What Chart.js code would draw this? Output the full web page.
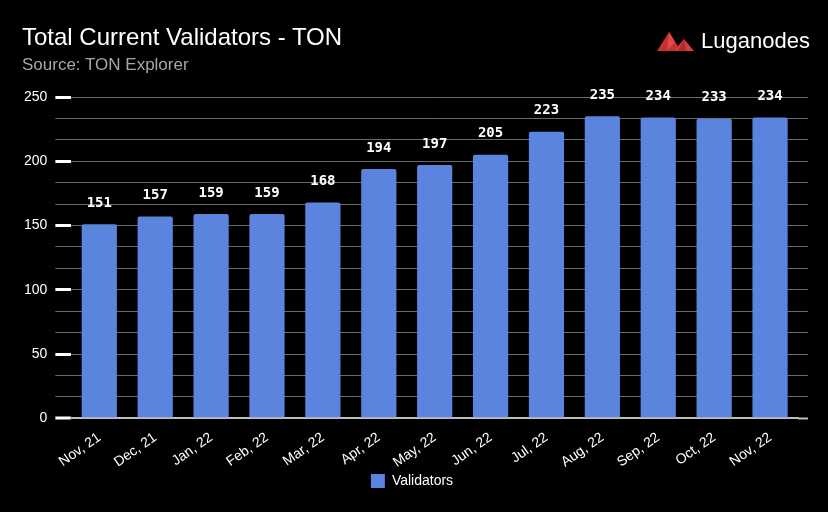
<!DOCTYPE html>
<html>
<head>
<meta charset="utf-8">
<script src="https://cdn.jsdelivr.net/npm/chart.js@4"></script>
<style>
  html, body { margin: 0; padding: 0; background: #000; }
  #wrap { position: relative; width: 828px; height: 512px; }
  #chart { position: absolute; left: 0; top: 0; }
  .head { position: absolute; left: 22px; white-space: nowrap;
          font-family: "Liberation Sans", Arial, sans-serif; }
  #title { top: 23px; font-size: 24px; line-height: 28px; color: #fff; }
  #subtitle { top: 55px; font-size: 17px; line-height: 20px; color: #a6a6a6; }
  #logo { position: absolute; left: 657px; top: 28px; display: flex; align-items: center;
          font-family: "Liberation Sans", Arial, sans-serif; font-size: 22px; color: #fff; }
  #logo svg { margin-right: 7px; }
</style>
</head>
<body>
<div id="wrap">
  <canvas id="chart" width="828" height="512"></canvas>
  <div id="title" class="head">Total Current Validators - TON</div>
  <div id="subtitle" class="head">Source: TON Explorer</div>
  <div id="logo">
    <svg width="37" height="20" viewBox="0 0 37 20">
      <polygon points="0,20 12,1 24,20" fill="#c9302f"/>
      <polygon points="10,20 12,1 18,11" fill="#e2484a"/>
      <polygon points="17,20 27,8 37,20" fill="#d83c3e"/>
      <polygon points="21,20 27,8 29,20" fill="#b22a2b"/>
    </svg>
    <span>Luganodes</span>
  </div>
</div>
<script>
var months = ['Nov, 21', 'Dec, 21', 'Jan, 22', 'Feb, 22', 'Mar, 22', 'Apr, 22', 'May, 22',
              'Jun, 22', 'Jul, 22', 'Aug, 22', 'Sep, 22', 'Oct, 22', 'Nov, 22'];
var validators = [151, 157, 159, 159, 168, 194, 197, 205, 223, 235, 234, 233, 234];
var yMax = 250;
var yMajor = 50;
var yStep = 50 / 3;

var barBlue = '#5b84de';
var gridGray = '#6a6a6a';

function isMajor(v) {
    return Math.abs(v - Math.round(v / yMajor) * yMajor) < 0.01;
}

// value labels above each bar
var valueLabels = {
    id: 'valueLabels',
    afterDatasetsDraw: function (chart) {
        var ctx = chart.ctx;
        var meta = chart.getDatasetMeta(0);
        ctx.save();
        ctx.fillStyle = '#fff';
        ctx.font = 'bold 14px "DejaVu Sans Mono", monospace';
        ctx.textAlign = 'center';
        ctx.textBaseline = 'middle';
        meta.data.forEach(function (bar, i) {
            ctx.fillText(String(validators[i]), bar.x, bar.y - 21);
        });
        ctx.restore();
    }
};

var ctx = document.getElementById('chart').getContext('2d');
new Chart(ctx, {
    type: 'bar',
    data: {
        labels: months,
        datasets: [{
            label: 'Validators',
            data: validators,
            backgroundColor: barBlue,
            borderRadius: 2,
            barPercentage: 0.63,
            categoryPercentage: 1
        }]
    },
    options: {
        responsive: false,
        animation: false,
        layout: { padding: { left: 16, right: 20, top: 97, bottom: 14 } },
        plugins: {
            legend: {
                position: 'bottom',
                labels: {
                    color: '#fff',
                    boxWidth: 14,
                    boxHeight: 14,
                    padding: 0,
                    font: { family: '"Liberation Sans", Arial, sans-serif', size: 14 }
                }
            },
            tooltip: { enabled: false }
        },
        scales: {
            x: {
                grid: { display: false },
                border: { color: '#bdbdbd', width: 2 },
                ticks: {
                    color: '#fff',
                    minRotation: 35,
                    maxRotation: 35,
                    font: { family: '"Liberation Sans", Arial, sans-serif', size: 14 }
                }
            },
            y: {
                min: 0,
                max: yMax,
                border: { display: false },
                grid: {
                    color: function (c) { return c.tick && c.tick.value === 0 ? '#bdbdbd' : gridGray; },
                    lineWidth: function (c) { return c.tick && c.tick.value === 0 ? 2 : 1; },
                    tickLength: 16,
                    tickWidth: function (c) { return c.tick && isMajor(c.tick.value) ? 3 : 1; },
                    tickColor: function (c) { return c.tick && isMajor(c.tick.value) ? '#fff' : gridGray; }
                },
                ticks: {
                    stepSize: yStep,
                    autoSkip: false,
                    color: '#fff',
                    padding: 8,
                    font: { family: '"Liberation Sans", Arial, sans-serif', size: 14 },
                    callback: function (v) { return isMajor(v) ? String(Math.round(v)) : ''; }
                }
            },
            y2: {
                position: 'right',
                min: 0,
                max: yMax,
                border: { display: false },
                grid: {
                    drawOnChartArea: false,
                    tickLength: 10,
                    color: function (c) { return c.tick && c.tick.value === 0 ? '#bdbdbd' : gridGray; },
                    tickWidth: function (c) { return c.tick && c.tick.value === 0 ? 2 : 1; }
                },
                ticks: { stepSize: yStep, autoSkip: false, display: false }
            }
        }
    },
    plugins: [valueLabels]
});
</script>
</body>
</html>
